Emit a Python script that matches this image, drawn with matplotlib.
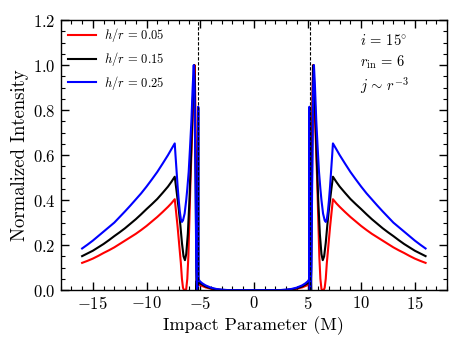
import numpy as np
import matplotlib
matplotlib.use("Agg")
import matplotlib.pyplot as plt
from matplotlib.ticker import MultipleLocator

plt.rcParams['font.family'] = 'serif'
plt.rcParams['font.serif'] = ['cmr10', 'DejaVu Serif']
plt.rcParams['mathtext.fontset'] = 'cm'
plt.rcParams['axes.formatter.use_mathtext'] = True
plt.rcParams['axes.unicode_minus'] = True

# ---- data (b >= 0 half; the profile is mirror-symmetric) ----
outer_b = [7.7, 8, 8.5, 9, 9.5, 10, 10.5, 11, 11.5, 12, 12.5, 13, 13.5, 14, 14.5,
           15, 15.5, 16]

b_red = [0.0, 2.5, 3.0, 3.5, 4.0, 4.5, 5.0, 5.18, 5.22, 5.3, 5.38, 5.46, 5.51,
         5.6, 5.7, 5.8, 5.9, 6.0, 6.1, 6.2, 6.3, 6.4, 6.5, 6.6, 6.7, 6.8,
         6.95, 7.1, 7.25, 7.37] + outer_b
I_red = [0.0, 0.0, 0.0, 0.002, 0.006, 0.012, 0.022, 0.03, 0.0, 0.0, 0.45, 0.85, 1.0,
         0.88, 0.76, 0.63, 0.49, 0.32, 0.15, 0.05, 0.005, 0.0, 0.0, 0.01, 0.05, 0.12,
         0.2, 0.28, 0.35, 0.404,
         0.385, 0.37, 0.347, 0.325, 0.305, 0.285, 0.267, 0.25, 0.235, 0.22, 0.205,
         0.19, 0.177, 0.165, 0.152, 0.14, 0.13, 0.121]

b_black = [0.0, 2.5, 3.0, 3.5, 4.0, 4.5, 5.0, 5.17, 5.19, 5.21, 5.23, 5.32, 5.34,
           5.42, 5.5, 5.56, 5.7, 5.85, 6.0, 6.15, 6.3, 6.42, 6.55, 6.7, 6.85,
           7.0, 7.2, 7.37] + outer_b
I_black = [0.0, 0.0, 0.001, 0.003, 0.008, 0.016, 0.03, 0.04, 0.81, 0.0, 0.04, 0.04, 0.0,
           0.5, 0.92, 1.0, 0.82, 0.6, 0.4, 0.25, 0.16, 0.133, 0.15, 0.21, 0.29,
           0.36, 0.44, 0.504,
           0.48, 0.46, 0.432, 0.405, 0.382, 0.36, 0.337, 0.315, 0.295, 0.275, 0.257,
           0.24, 0.222, 0.205, 0.19, 0.175, 0.163, 0.151]

b_blue = [0.0, 2.4, 3.0, 3.5, 4.0, 4.5, 4.8, 5.0, 5.1, 5.16, 5.18, 5.2, 5.28,
          5.36, 5.45, 5.53, 5.6, 5.7, 5.82, 5.95, 6.07, 6.2, 6.3, 6.45, 6.6,
          6.7, 6.8, 6.9, 7.0, 7.1, 7.2, 7.3, 7.37] + outer_b
I_blue = [0.0, 0.0, 0.002, 0.005, 0.011, 0.021, 0.03, 0.038, 0.044, 0.05, 0.815, 0.0, 0.0,
          0.1, 0.55, 0.9, 1.0, 0.9, 0.75, 0.63, 0.526, 0.45, 0.40, 0.34, 0.31,
          0.303, 0.315, 0.35, 0.40, 0.46, 0.53, 0.60, 0.652,
          0.625, 0.60, 0.562, 0.525, 0.492, 0.46, 0.43, 0.403, 0.376, 0.35, 0.325,
          0.30, 0.28, 0.26, 0.24, 0.22, 0.202, 0.185]

labels = [r'$h/r\,=\,0.05$', r'$h/r\,=\,0.15$', r'$h/r\,=\,0.25$']
colors = ['red', 'black', 'blue']
photon_ring = 5.196

def mirror(b, I):
    b = np.asarray(b, float)
    I = np.asarray(I, float)
    return np.concatenate([-b[::-1], b[1:]]), np.concatenate([I[::-1], I[1:]])

fig = plt.figure(figsize=(4.63, 3.47), dpi=100)
ax = fig.add_axes([0.131, 0.164, 0.8345, 0.778])

for (b, I), lab, c in zip([(b_red, I_red), (b_black, I_black), (b_blue, I_blue)],
                          labels, colors):
    bb, ii = mirror(b, I)
    ax.plot(bb, ii, color=c, lw=1.5, label=lab)

for xv in (-photon_ring, photon_ring):
    ax.axvline(xv, color='black', ls='--', lw=0.8, dashes=(3, 1.5))

ax.set_xlim(-18, 18)
ax.set_ylim(0, 1.2)
ax.xaxis.set_major_locator(MultipleLocator(5))
ax.xaxis.set_minor_locator(MultipleLocator(1))
ax.yaxis.set_major_locator(MultipleLocator(0.2))
ax.yaxis.set_minor_locator(MultipleLocator(0.05))
ax.tick_params(which='both', direction='in', top=True, right=True, labelsize=12)
ax.tick_params(which='major', length=6, width=1)
ax.tick_params(which='minor', length=3, width=0.8)
for s in ax.spines.values():
    s.set_linewidth(1.0)

ax.set_xlabel('Impact Parameter (M)', fontsize=13, labelpad=3)
ax.set_ylabel('Normalized Intensity', fontsize=13.5, labelpad=3)

ax.legend(loc='upper left', frameon=False, fontsize=9, handlelength=2.2,
          handletextpad=0.7, borderaxespad=0.2, labelspacing=0.45,
          bbox_to_anchor=(0.0, 1.005))

ax.text(0.775, 0.926, r'$i\,=\,15^{\circ}$', transform=ax.transAxes, fontsize=10.5, va='center')
ax.text(0.775, 0.844, r'$r_{\rm in}\,=\,6$', transform=ax.transAxes, fontsize=10.5, va='center')
ax.text(0.775, 0.759, r'$j\,\sim\,r^{-3}$', transform=ax.transAxes, fontsize=10.5, va='center')

fig.savefig('out.png', dpi=100)
